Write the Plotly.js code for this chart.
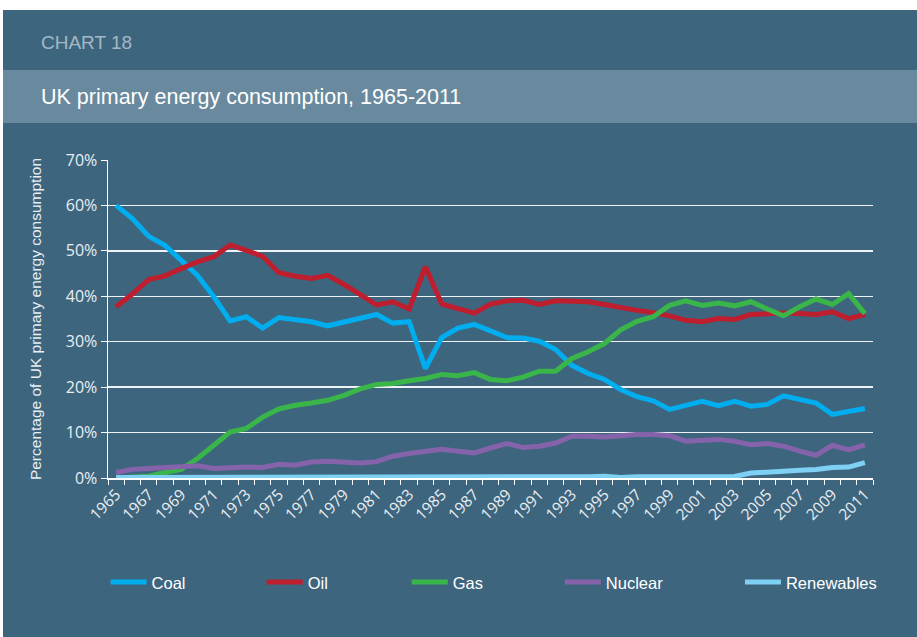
<!DOCTYPE html>
<html>
<head>
<meta charset="utf-8">
<script src="https://cdn.plot.ly/plotly-3.0.1.min.js"></script>
<style>
  html, body { margin: 0; padding: 0; background: #ffffff; width: 917px; height: 637px; overflow: hidden; }
  #chart { position: absolute; left: 3px; top: 10px; width: 914px; height: 627px; }
</style>
</head>
<body>
<div id="chart"></div>
<script>
// ---- data (% of UK primary energy consumption) ----
const years = [1965,1966,1967,1968,1969,1970,1971,1972,1973,1974,1975,1976,1977,1978,1979,1980,
  1981,1982,1983,1984,1985,1986,1987,1988,1989,1990,1991,1992,1993,1994,1995,1996,1997,1998,1999,2000,
  2001,2002,2003,2004,2005,2006,2007,2008,2009,2010,2011];

const coal = [60.0,57.1,53.2,51.2,47.9,44.6,39.9,34.6,35.5,33.0,35.3,34.9,34.4,33.5,34.4,35.2,
  36.0,34.1,34.4,24.1,30.9,33.0,33.8,32.4,30.9,30.8,30.1,28.3,24.8,23.0,21.7,19.5,17.9,17.0,15.1,16.0,
  16.9,15.9,16.9,15.8,16.2,18.1,17.3,16.5,14.0,14.7,15.3];

const oil = [37.7,40.5,43.7,44.5,46.1,47.6,48.7,51.3,50.1,48.8,45.2,44.4,43.9,44.6,42.6,40.3,
  38.1,38.8,37.2,46.5,38.3,37.3,36.3,38.3,39.0,39.1,38.2,39.0,38.9,38.8,38.2,37.5,36.9,36.4,35.7,34.7,
  34.4,35.1,34.9,36.0,36.2,36.3,36.2,36.0,36.6,35.1,36.0];

const gas = [0.0,0.1,0.4,1.2,1.9,4.3,7.2,10.1,10.9,13.4,15.2,16.0,16.5,17.1,18.2,19.6,
  20.6,20.8,21.4,21.9,22.8,22.5,23.2,21.7,21.4,22.2,23.5,23.5,26.3,27.8,29.6,32.6,34.5,35.5,38.0,39.0,
  38.0,38.5,37.9,38.8,37.2,35.7,37.7,39.4,38.2,40.6,36.2];

const nuclear = [1.2,1.9,2.1,2.3,2.6,2.7,2.1,2.3,2.4,2.3,3.0,2.8,3.5,3.7,3.4,3.3,
  3.6,4.8,5.4,5.9,6.3,5.9,5.5,6.6,7.6,6.7,7.0,7.7,9.2,9.2,9.0,9.3,9.6,9.6,9.3,8.1,
  8.4,8.5,8.1,7.3,7.6,7.0,5.9,5.0,7.2,6.2,7.3];

const renewables = [0.1,0.1,0.1,0.1,0.1,0.1,0.1,0.1,0.1,0.1,0.1,0.1,0.1,0.1,0.1,0.1,
  0.1,0.1,0.1,0.1,0.1,0.1,0.1,0.1,0.1,0.1,0.1,0.1,0.1,0.3,0.4,0.1,0.3,0.3,0.35,0.4,
  0.45,0.55,0.35,1.1,1.4,1.5,1.7,1.85,2.3,2.4,3.4];

const seriesNames = ['Coal','Oil','Gas','Nuclear','Renewables'];
const seriesData = [coal, oil, gas, nuclear, renewables];
const seriesColors = ['#00aeef','#be1e2d','#39b54a','#8463aa','#7fd0f5'];

const yTickVals = [0,10,20,30,40,50,60,70];
const yTickText = ['0%','10%','20%','30%','40%','50%','60%','70%'];

const chartLabel = 'CHART 18';
const chartTitle = 'UK primary energy consumption, 1965-2011';
const yTitle = 'Percentage of UK primary energy consumption';

// ---- layout geometry ----
const DIV_W = 914, DIV_H = 627, OX = 3, OY = 10;
const M = { l: 105.4, r: 44, t: 150, b: 159.3 };
const PW = DIV_W - M.l - M.r, PH = DIV_H - M.t - M.b;
const px = xa => (xa - OX - M.l) / PW;            // absolute page x -> paper x
const py = ya => (DIV_H - M.b - (ya - OY)) / PH;  // absolute page y -> paper y

const TEXTFONT = '"Liberation Sans", Arial, sans-serif';
const TICKFONT = '"Open Sans", "Liberation Sans", sans-serif';

const legendLefts = [106, 262, 407, 560, 740];

const traces = seriesNames.map((name, i) => ({
  type: 'scatter', mode: 'lines', name: name,
  x: years, y: seriesData[i],
  line: { color: seriesColors[i], width: 5 },
  legend: i === 0 ? 'legend' : 'legend' + (i + 1),
  hoverinfo: 'skip'
}));

const layout = {
  width: DIV_W, height: DIV_H,
  margin: M,
  paper_bgcolor: '#3e657e',
  plot_bgcolor: 'rgba(0,0,0,0)',
  showlegend: true,
  xaxis: {
    range: [1964.5, 2011.5],
    tickmode: 'linear', tick0: 1965, dtick: 2,
    ticks: '', tickangle: -45,
    tickfont: { family: TICKFONT, size: 15.5, color: '#e9eef2' },
    showgrid: false, zeroline: false,
    showline: true, linecolor: '#ffffff', linewidth: 1.5,
    minor: { tickmode: 'linear', tick0: 1964.5, dtick: 1, ticks: 'outside', ticklen: 5, tickcolor: '#ffffff', tickwidth: 1, showgrid: false }
  },
  yaxis: {
    range: [0, 70],
    tickvals: yTickVals, ticktext: yTickText,
    ticks: 'outside', ticklen: 6, tickcolor: '#ffffff', tickwidth: 1,
    tickfont: { family: TICKFONT, size: 16, color: '#e9eef2' },
    showgrid: true, gridcolor: '#eef2f5', gridwidth: 1.5,
    zeroline: false,
    showline: true, linecolor: '#ffffff', linewidth: 1.5,
    title: { text: yTitle, font: { family: TEXTFONT, size: 15.5, color: '#e9eef2' }, standoff: 20 }
  },
  shapes: [
    { type: 'rect', xref: 'paper', yref: 'paper', layer: 'below',
      x0: px(0), x1: px(917), y0: py(123), y1: py(70),
      fillcolor: '#698a9e', line: { width: 0 } }
  ],
  annotations: [
    { text: chartLabel, xref: 'paper', yref: 'paper', x: px(39), y: py(43), xanchor: 'left', yanchor: 'middle',
      showarrow: false, font: { family: TEXTFONT, size: 19, color: '#a3b8c6' } },
    { text: chartTitle, xref: 'paper', yref: 'paper', x: px(39), y: py(97), xanchor: 'left', yanchor: 'middle',
      showarrow: false, font: { family: TEXTFONT, size: 21.5, color: '#ffffff' } }
  ]
};

legendLefts.forEach((lx, i) => {
  const key = i === 0 ? 'legend' : 'legend' + (i + 1);
  layout[key] = {
    orientation: 'h', x: px(lx), y: py(582), xanchor: 'left', yanchor: 'middle',
    bgcolor: 'rgba(0,0,0,0)', borderwidth: 0,
    font: { family: TEXTFONT, size: 16.5, color: '#ffffff' },
    itemwidth: 36
  };
});

Plotly.newPlot('chart', traces, layout, { staticPlot: true, displayModeBar: false });
</script>
</body>
</html>
